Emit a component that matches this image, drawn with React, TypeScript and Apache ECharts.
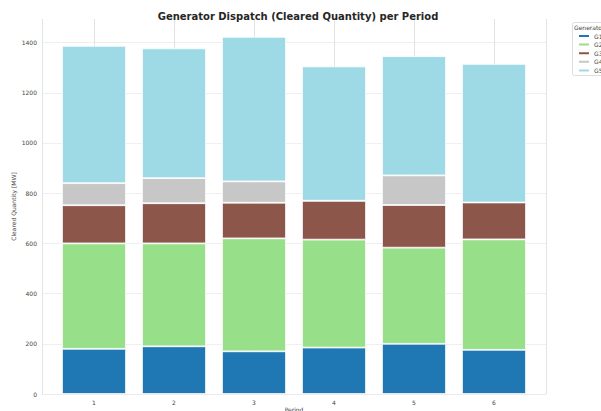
import React, { useEffect, useRef } from "react";
import * as echarts from "echarts";

const periods = ["1", "2", "3", "4", "5", "6"];
const generators = ["G1", "G2", "G3", "G4", "G5"];
const g1 = [180, 190, 170, 185, 200, 176];
const g2 = [420, 410, 450, 430, 383, 440];
const g3 = [152, 160, 142, 155, 170, 147];
const g4 = [88, 100, 85, 0, 118, 0];
const g5 = [547, 517, 576, 535, 475, 552];
const seriesValues = [g1, g2, g3, g4, g5];
const colors = ["#1f77b4", "#98df8a", "#8c564b", "#c7c7c7", "#9edae5"];
const yTicks = [0, 200, 400, 600, 800, 1000, 1200, 1400];

const FONT = "DejaVu Sans";
const Y_MAX = 1494;

export default function App() {
  const ref = useRef<HTMLDivElement>(null);
  useEffect(() => {
    if (!ref.current) return;
    const chart = echarts.init(ref.current, undefined, { renderer: "svg" });
    chart.setOption({
      animation: false,
      backgroundColor: "#ffffff",
      title: {
        text: "Generator Dispatch (Cleared Quantity) per Period",
        left: 293,
        textAlign: "center",
        top: 6,
        textStyle: { fontFamily: FONT, fontSize: 10, fontWeight: "bold", color: "#262626" },
      },
      grid: [
        { left: 42, right: 55, top: 19, bottom: 17, containLabel: false, outerBoundsMode: "none" },
        { left: 54, right: 67, top: 19, bottom: 17, containLabel: false, outerBoundsMode: "none" },
      ],
      xAxis: [
        {
          type: "value",
          gridIndex: 0,
          min: 0.35,
          max: 6.65,
          splitNumber: 6,
          name: "Period",
          nameLocation: "middle",
          nameGap: 12,
          nameMoveOverlap: false,
          nameTextStyle: { fontFamily: FONT, fontSize: 6, color: "#444" },
          axisLine: { show: true, lineStyle: { color: "#ebebeb", width: 1 } },
          axisTick: { show: false },
          axisLabel: {
            fontFamily: FONT,
            fontSize: 6,
            color: "#444",
            margin: 5,
            showMinLabel: false,
            showMaxLabel: false,
            formatter: (v: number) => (Number.isInteger(v) && periods.includes(String(v)) ? String(v) : ""),
          },
          splitLine: { show: true, lineStyle: { color: "#e3e3e3", width: 1 } },
        },
        {
          type: "category",
          gridIndex: 1,
          data: periods,
          boundaryGap: true,
          axisLine: { show: false },
          axisTick: { show: false },
          axisLabel: { show: false },
          splitLine: { show: false },
        },
      ],
      yAxis: [
        {
          type: "value",
          gridIndex: 0,
          min: 0,
          max: Y_MAX,
          interval: 200,
          name: "Cleared Quantity [MW]",
          nameLocation: "middle",
          nameGap: 26,
          nameMoveOverlap: false,
          nameTextStyle: { fontFamily: FONT, fontSize: 6, color: "#444" },
          axisLine: { show: false },
          axisTick: { show: false },
          axisLabel: {
            fontFamily: FONT,
            fontSize: 6,
            color: "#444",
            margin: 5,
            showMaxLabel: false,
            formatter: (v: number) => (yTicks.includes(v) ? String(v) : ""),
          },
          splitLine: { show: true, showMaxLine: false, lineStyle: { color: "#efefef", width: 1 } },
        },
        {
          type: "value",
          gridIndex: 1,
          min: 0,
          max: Y_MAX,
          interval: 200,
          axisLine: { show: false },
          axisTick: { show: false },
          axisLabel: { show: false },
          splitLine: { show: false },
        },
      ],
      legend: {
        orient: "vertical",
        left: 577,
        top: 33,
        itemWidth: 12,
        itemHeight: 4,
        itemGap: 2.6,
        padding: [0, 0, 0, 0],
        icon: "rect",
        data: generators,
        textStyle: { fontFamily: FONT, fontSize: 6, color: "#444", padding: [0, 0, 0, -1] },
      },
      graphic: [
        {
          type: "rect",
          shape: { x: 572.5, y: 22.5, width: 40, height: 53, r: 2 },
          style: { fill: "rgba(255,255,255,0.8)", stroke: "#d6d6d6", lineWidth: 0.8 },
          z: 0,
        },
        {
          type: "text",
          x: 574,
          y: 24,
          style: { text: "Generator", fontFamily: FONT, fontSize: 6, fill: "#444" },
        },
      ],
      series: generators.map((g, i) => ({
        name: g,
        type: "bar",
        stack: "total",
        xAxisIndex: 1,
        yAxisIndex: 1,
        barWidth: 64,
        itemStyle: { color: colors[i], borderColor: "#ffffff", borderWidth: 0.8 },
        data: seriesValues[i],
      })),
    });
    return () => chart.dispose();
  }, []);
  return (
    <div
      ref={ref}
      style={{ position: "fixed", left: 0, top: 0, width: 601, height: 411, overflow: "hidden" }}
    />
  );
}
